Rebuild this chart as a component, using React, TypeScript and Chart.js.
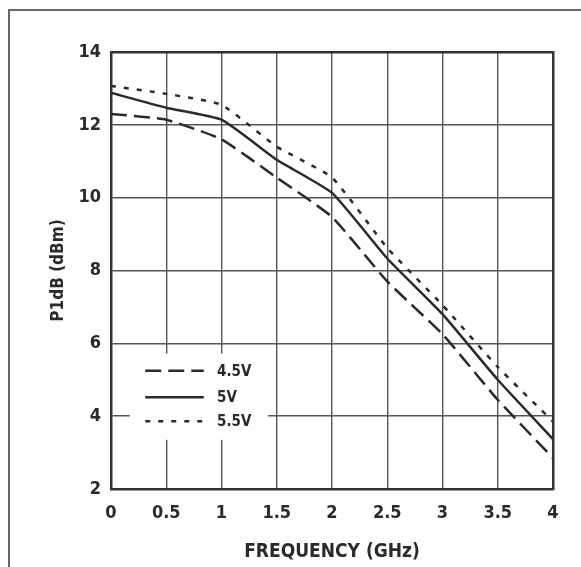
import React, { useEffect, useRef } from "react";
import { Chart, registerables } from "chart.js";

Chart.register(...registerables);

const frequencies = [0, 0.5, 1, 1.5, 2, 2.5, 3, 3.5, 4];
const series45V = [12.3, 12.14, 11.6, 10.55, 9.47, 7.7, 6.25, 4.45, 2.85];
const series5V = [12.88, 12.47, 12.14, 11.04, 10.13, 8.33, 6.8, 5.0, 3.37];
const series55V = [13.07, 12.85, 12.55, 11.4, 10.55, 8.62, 7.05, 5.35, 3.85];
const seriesLabels = ["4.5V", "5V", "5.5V"];
const xTickLabels = ["0", "0.5", "1", "1.5", "2", "2.5", "3", "3.5", "4"];
const yTickLabels = ["2", "4", "6", "8", "10", "12", "14"];

const FONT = "'DejaVu Sans Condensed', 'Liberation Sans Narrow', sans-serif";
const INK = "#2a2a2a";

const legendPlugin = {
  id: "boxLegend",
  beforeDatasetsDraw(chart: any) {
    const { ctx } = chart;
    const xs = chart.scales.x;
    const ys = chart.scales.y;
    const l = xs.getPixelForValue(0.17);
    const r = xs.getPixelForValue(1.42);
    const t = ys.getPixelForValue(5.72);
    const b = ys.getPixelForValue(3.35);
    ctx.save();
    ctx.fillStyle = "#ffffff";
    ctx.fillRect(l, t, r - l, b - t);
    ctx.restore();
  },
  afterDatasetsDraw(chart: any) {
    const { ctx } = chart;
    const xs = chart.scales.x;
    const ys = chart.scales.y;
    const rows = [5.25, 4.52, 3.86];
    const x0 = xs.getPixelForValue(0.31);
    const x1 = xs.getPixelForValue(0.84);
    const xt = xs.getPixelForValue(0.96);
    ctx.save();
    chart.data.datasets.forEach((ds: any, i: number) => {
      const y = ys.getPixelForValue(rows[i]);
      ctx.strokeStyle = ds.borderColor;
      ctx.lineWidth = ds.borderWidth;
      ctx.setLineDash(ds.borderDash || []);
      ctx.beginPath();
      ctx.moveTo(x0, y);
      ctx.lineTo(x1, y);
      ctx.stroke();
      ctx.setLineDash([]);
      ctx.fillStyle = INK;
      ctx.font = `bold 15px ${FONT}`;
      ctx.textBaseline = "middle";
      ctx.textAlign = "left";
      ctx.fillText(seriesLabels[i], xt, y + 1);
    });
    ctx.restore();
  },
};

export default function App() {
  const ref = useRef<HTMLCanvasElement | null>(null);
  useEffect(() => {
    if (!ref.current) return;
    const mk = (vals: number[]) => frequencies.map((f, i) => ({ x: f, y: vals[i] }));
    const chart = new Chart(ref.current, {
      type: "line",
      data: {
        datasets: [
          { label: seriesLabels[0], data: mk(series45V), borderColor: INK, borderWidth: 2.5, borderDash: [16, 7], pointRadius: 0, tension: 0.15, fill: false },
          { label: seriesLabels[1], data: mk(series5V), borderColor: INK, borderWidth: 2.5, pointRadius: 0, tension: 0.15, fill: false },
          { label: seriesLabels[2], data: mk(series55V), borderColor: INK, borderWidth: 2.5, borderDash: [5, 8], pointRadius: 0, tension: 0.15, fill: false },
        ],
      },
      options: {
        animation: false,
        responsive: false,
        events: [],
        layout: { padding: { left: 0, top: 52, right: 28, bottom: 0 } },
        plugins: { legend: { display: false }, tooltip: { enabled: false } },
        scales: {
          x: {
            type: "linear",
            min: 0,
            max: 4,
            afterBuildTicks: (s: any) => {
              s.ticks = xTickLabels.map((t) => ({ value: parseFloat(t) }));
            },
            afterFit: (s: any) => {
              s.height = 78;
            },
            ticks: {
              callback: (v: any) => xTickLabels.find((t) => parseFloat(t) === v) ?? "",
              color: INK,
              font: { family: FONT, size: 18, weight: "bold" },
              padding: 14,
              maxRotation: 0,
            },
            grid: { color: "#555", lineWidth: 1.4, drawTicks: false },
            border: { color: "#333", width: 2.5 },
            title: {
              display: true,
              text: "FREQUENCY (GHz)",
              color: INK,
              font: { family: FONT, size: 19, weight: "bold" },
              padding: { top: 4 },
            },
          },
          y: {
            type: "linear",
            min: 2,
            max: 14,
            afterBuildTicks: (s: any) => {
              s.ticks = yTickLabels.map((t) => ({ value: parseFloat(t) }));
            },
            afterFit: (s: any) => {
              s.width = 111;
            },
            ticks: {
              callback: (v: any) => String(v),
              color: INK,
              font: { family: FONT, size: 18, weight: "bold" },
              padding: 10,
            },
            grid: { color: "#555", lineWidth: 1.4, drawTicks: false },
            border: { color: "#333", width: 2.5 },
            title: {
              display: true,
              text: "P1dB (dBm)",
              color: INK,
              font: { family: FONT, size: 17, weight: "bold" },
              padding: { top: 48, bottom: 0 },
            },
          },
          x2: {
            type: "linear",
            position: "top",
            min: 0,
            max: 4,
            display: true,
            ticks: { display: false },
            grid: { display: false, drawTicks: false },
            border: { color: "#333", width: 2.5 },
          },
          y2: {
            type: "linear",
            position: "right",
            min: 2,
            max: 14,
            display: true,
            ticks: { display: false },
            grid: { display: false, drawTicks: false },
            border: { color: "#333", width: 2.5 },
          },
        },
      } as any,
      plugins: [legendPlugin],
    });
    return () => chart.destroy();
  }, []);
  return (
    <div style={{ position: "fixed", left: 0, top: 0, width: 581, height: 567, background: "#fff" }}>
      <div style={{ position: "absolute", left: 8, top: 9, right: 0, bottom: 0, borderTop: "2px solid #666", borderLeft: "2px solid #666" }} />
      <canvas ref={ref} width={581} height={567} style={{ position: "absolute", left: 0, top: 0 }} />
    </div>
  );
}
